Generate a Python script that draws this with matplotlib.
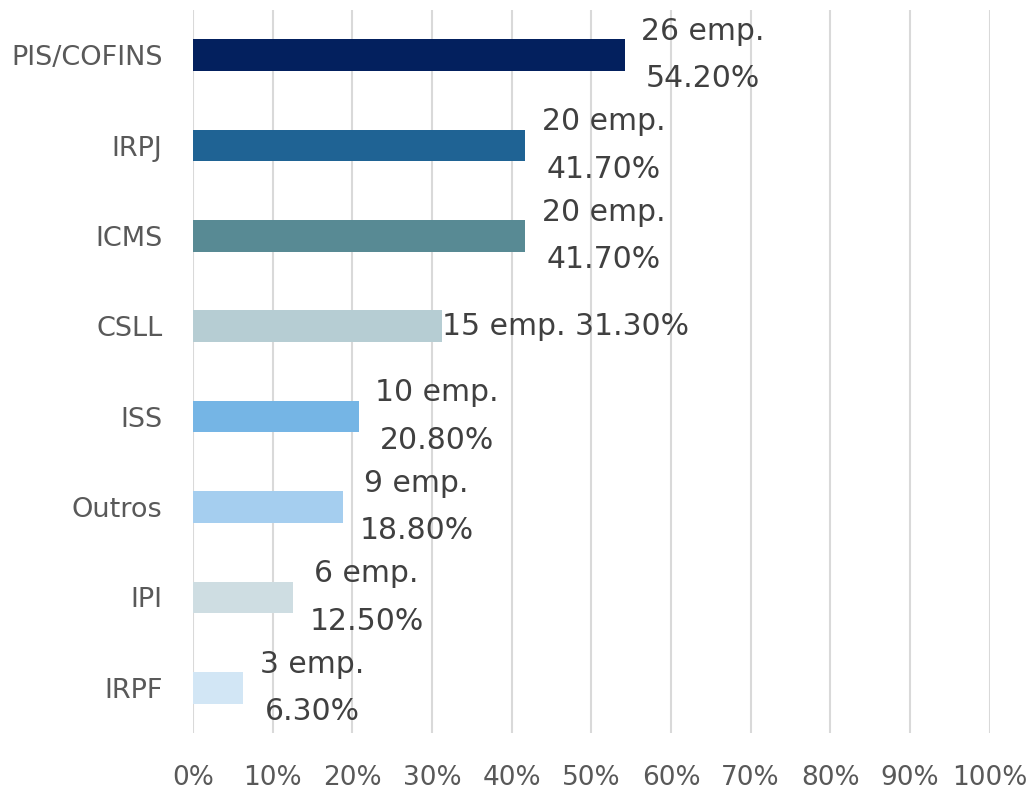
import matplotlib
matplotlib.use("Agg")
from matplotlib import pyplot as plt

categories = ["PIS/COFINS", "IRPJ", "ICMS", "CSLL", "ISS", "Outros", "IPI", "IRPF"]
shares = [54.2, 41.7, 41.7, 31.3, 20.8, 18.8, 12.5, 6.3]
counts = [26, 20, 20, 15, 10, 9, 6, 3]
colors = ["#03205E", "#1F6394", "#588A94", "#B6CDD3", "#75B5E5", "#A5CEEF", "#CEDDE2", "#D2E6F5"]
x_ticks = list(range(0, 101, 10))
x_tick_labels = [f"{t}%" for t in x_ticks]

plt.rcParams['font.family'] = ['DejaVu Sans']

fig = plt.figure(figsize=(10.32, 7.93), dpi=100)
ax = fig.add_axes([0.187, 0.0757, 0.772, 0.9117])

ypos = list(range(len(categories)))
ax.barh(ypos, shares, height=0.35, color=colors, zorder=2)

for y, v, n in zip(ypos, shares, counts):
    if categories[y] == "CSLL":
        ax.annotate(f"{n} emp. {v:.2f}%", (v, y), xytext=(0, 0), textcoords="offset points",
                    ha="left", va="center", fontsize=21.5, color="#404040", zorder=3)
    else:
        ax.annotate(f"{n} emp.\n{v:.2f}%", (v, y), xytext=(12, 0), textcoords="offset points",
                    ha="left", va="center", multialignment="center", linespacing=1.8,
                    fontsize=21.5, color="#404040", zorder=3)

ax.set_xlim(0, 100)
ax.set_ylim(len(categories) - 0.5, -0.5)
ax.set_yticks(ypos)
ax.set_yticklabels(categories, fontsize=19.5, color="#595959")
ax.set_xticks(x_ticks)
ax.set_xticklabels(x_tick_labels, fontsize=19, color="#595959")
ax.tick_params(axis="y", length=0, pad=22)
ax.tick_params(axis="x", length=0, pad=23)
ax.grid(axis="x", color="#D9D9D9", linewidth=1.5, zorder=0)
for s in ax.spines.values():
    s.set_visible(False)

fig.savefig("out.png", dpi=100)
